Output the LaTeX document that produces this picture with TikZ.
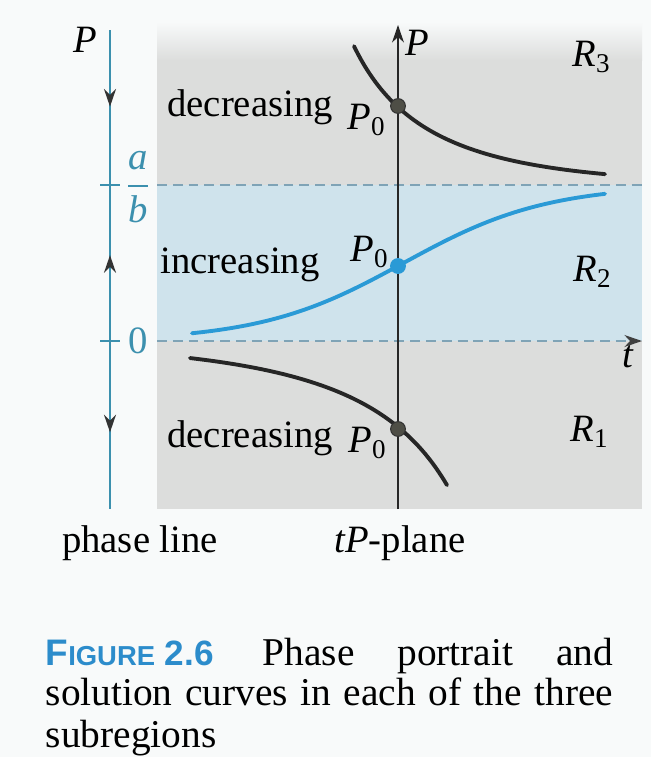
\documentclass[tikz,border=0pt]{standalone}
\usepackage{fontspec}
\setmainfont{Liberation Serif}
\newfontfamily\capfont{Liberation Sans}
\usetikzlibrary{arrows.meta,decorations.markings}
\definecolor{bgpaper}{HTML}{F8FAFA}
\definecolor{regiongray}{HTML}{DCDDDC}
\definecolor{regionblue}{HTML}{CFE3EC}
\definecolor{phaseblue}{HTML}{3C90AE}
\definecolor{curveblue}{HTML}{2A9AD6}
\definecolor{dashblue}{HTML}{7FA3B6}
\definecolor{capblue}{HTML}{2C8CCB}
\definecolor{dotgray}{HTML}{4E4E46}
\tikzset{
	levelline/.style={dashblue, line width=0.6pt, dash pattern=on 2.8pt off 1.7pt},
	solcurve/.style={line width=1.1pt, line cap=round},
	dotnode/.style={circle, draw=black!80, fill=dotgray, line width=0.3pt, minimum size=4.2pt, inner sep=0pt},
	lab/.style={inner sep=1pt}
}

\begin{document}
\begin{tikzpicture}[x=0.01cm, y=-0.01cm, font=\fontsize{11}{13}\selectfont]
		\def\Xl{157} \def\Xr{642}   % shaded strip of the tP-plane
		\def\Ytop{30} \def\Ybot{509}
		\def\Yab{185} \def\Yz{341}  % levels P = a/b and P = 0
		\def\H{156}                 % \Yz - \Yab
		\def\Xa{398}                % P axis
		\def\Xp{110}                % phase line
		\useasboundingbox (0,0) rectangle (651,757);
		\fill[bgpaper] (0,0) rectangle (651,757);
		% regions R3, R2, R1
		\fill[regiongray] (\Xl,60) rectangle (\Xr,\Yab);
		\shade[top color=bgpaper, bottom color=regiongray] (\Xl,22) rectangle (\Xr,60.5);
		\fill[regionblue] (\Xl,\Yab) rectangle (\Xr,\Yz);
		\fill[regiongray] (\Xl,\Yz) rectangle (\Xr,\Ybot);
		% equilibrium levels
		\draw[levelline] (\Xl,\Yab) -- (\Xr,\Yab);
		\draw[levelline, -{Stealth[length=5pt, width=3.4pt, color=black!75]}] (\Xl,\Yz) -- (\Xr,\Yz);
		\draw[black!85, line width=0.5pt, -{Stealth[length=5pt, width=3.4pt]}] (\Xa,\Ybot) -- (\Xa,25);
		\node[lab] (Paxis) at (417,43) {\textit{P}};
		\node[lab] (taxis) at (628,357) {\textit{t}};
		%%% phase line
		\draw[phaseblue, line width=0.6pt, postaction={decorate}, decoration={markings,
			mark=at position 0.16 with {\arrow[black!80]{Stealth[length=5pt, width=3.4pt]}},
			mark=at position 0.47 with {\arrowreversed[black!80]{Stealth[length=5pt, width=3.4pt]}},
			mark=at position 0.84 with {\arrow[black!80]{Stealth[length=5pt, width=3.4pt]}}}]
			(\Xp,\Ytop) -- (\Xp,\Ybot);
		\draw[phaseblue, line width=0.8pt] (100,\Yab) -- (120,\Yab);
		\draw[phaseblue, line width=0.8pt] (100,\Yz) -- (120,\Yz);
		\node[lab] (Pphase) at (85,40) {\textit{P}};
		\node[lab, phaseblue] (ab) at (138,187) {$\displaystyle\frac{\textit{a}}{\textit{b}}$};
		\node[lab, phaseblue] (zero) at (138,341) {0};
		%%% solution curves: logistic through P0 on the P axis
		\draw[solcurve, black!85] plot[domain=354:605, samples=80, smooth]
			(\x,{\Yz-\H/(1-0.333*exp(-0.00787*(\x-\Xa)))});
		\draw[solcurve, curveblue] plot[domain=192:605, samples=80, smooth]
			(\x,{\Yz-\H/(1+1.079*exp(-0.01395*(\x-\Xa)))});
		\draw[solcurve, black!85] plot[domain=190:447, samples=80, smooth]
			(\x,{\Yz-\H/(1-2.816*exp(-0.00617*(\x-\Xa)))});
		\node[dotnode] (Ptop) at (\Xa,106) {};
		\node[dotnode, draw=curveblue, fill=curveblue] (Pmid) at (\Xa,266) {};
		\node[dotnode] (Pbot) at (\Xa,429) {};
		% labels in the plane
		\node[lab] (dectop) at (250,107) {decreasing};
		\node[lab] (P0top) at (367,120) {\textit{P}\textsubscript{0}};
		\node[lab] (incr) at (240,265) {increasing};
		\node[lab] (P0mid) at (370,252) {\textit{P}\textsubscript{0}};
		\node[lab] (decbot) at (250,438) {decreasing};
		\node[lab] (P0bot) at (368,443) {\textit{P}\textsubscript{0}};
		\node[lab] (R3) at (592,57) {\textit{R}\textsubscript{3}};
		\node[lab] (R2) at (593,272) {\textit{R}\textsubscript{2}};
		\node[lab] (R1) at (590,432) {\textit{R}\textsubscript{1}};
		\node[lab] (phasename) at (140,543) {phase line};
		\node[lab] (planename) at (400,543) {\textit{tP}-plane};
		%%% caption
		\begin{scope}[font=\fontsize{11.2}{13}\selectfont]
			\node[anchor=base west, inner sep=0pt] (figtag) at (45,665)
				{\capfont\bfseries\color{capblue}\fontsize{10}{12}\selectfont{\fontsize{10.5}{12}\selectfont F}{\fontsize{7.8}{10}\selectfont IGURE} 2.6};
			\node[anchor=base west, inner sep=0pt] (capA) at (262,665) {\makebox[3.5cm][s]{Phase portrait and}};
			\node[anchor=base west, inner sep=0pt] (capB) at (45,705) {\makebox[5.67cm][s]{solution curves in each of the three}};
			\node[anchor=base west, inner sep=0pt] (capC) at (45,747) {subregions};
		\end{scope}
\end{tikzpicture}
\end{document}
